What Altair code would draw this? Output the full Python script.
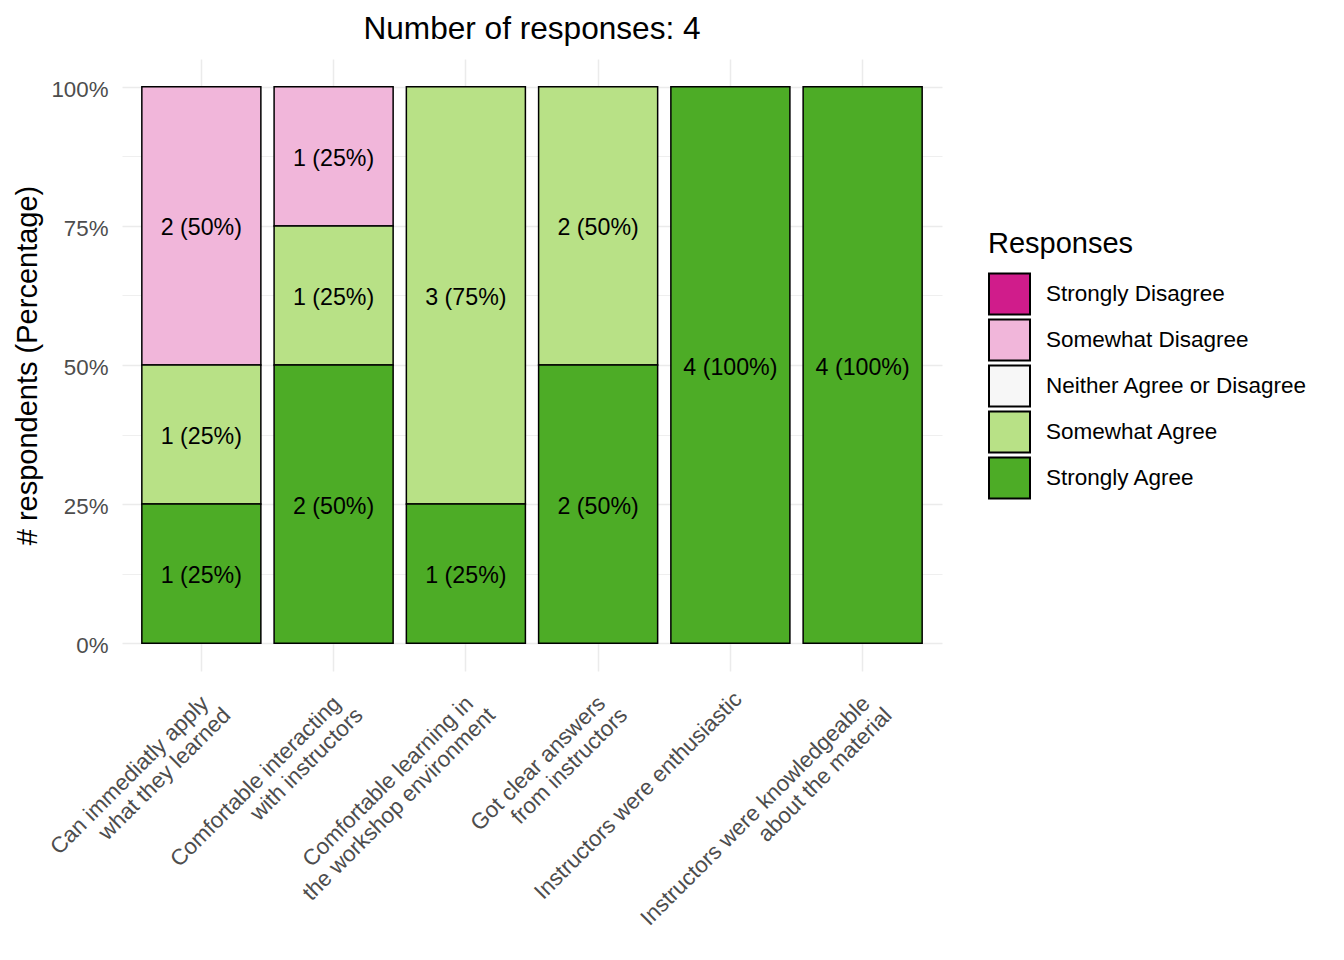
import altair as alt
import pandas as pd

categories = [
    "Can immediatly apply\nwhat they learned",
    "Comfortable interacting\nwith instructors",
    "Comfortable learning in\nthe workshop environment",
    "Got clear answers\nfrom instructors",
    "Instructors were enthusiastic",
    "Instructors were knowledgeable\nabout the material",
]
responses = [
    "Strongly Disagree",
    "Somewhat Disagree",
    "Neither Agree or Disagree",
    "Somewhat Agree",
    "Strongly Agree",
]
colors = ["#D01C8B", "#F1B6DA", "#F7F7F7", "#B8E186", "#4DAC26"]

strongly_disagree = [0, 0, 0, 0, 0, 0]
somewhat_disagree = [2, 1, 0, 0, 0, 0]
neither = [0, 0, 0, 0, 0, 0]
somewhat_agree = [1, 1, 3, 2, 0, 0]
strongly_agree = [1, 2, 1, 2, 4, 4]

series = [strongly_disagree, somewhat_disagree, neither, somewhat_agree, strongly_agree]
rows = []
for resp, vals in zip(responses, series):
    for cat, v in zip(categories, vals):
        if v > 0:
            rows.append({"cat": cat, "resp": resp, "count": v,
                         "rank": len(responses) - 1 - responses.index(resp)})
df = pd.DataFrame(rows)

base = alt.Chart(df).transform_joinaggregate(
    total="sum(count)", groupby=["cat"]
).transform_calculate(
    pct="datum.count / datum.total"
).transform_stack(
    stack="pct", groupby=["cat"], as_=["y0", "y1"],
    sort=[alt.SortField("rank", order="ascending")]
).transform_calculate(
    mid="(datum.y0 + datum.y1) / 2",
    lab="datum.count + ' (' + format(datum.pct, '.0%') + ')'"
)

ticks = [0, 0.125, 0.25, 0.375, 0.5, 0.625, 0.75, 0.875, 1.0]
x_scale = alt.Scale(paddingInner=0.1, paddingOuter=0.15)
two_lines = "indexof(datum.label, '\\n') >= 0"

# first line of each x label
axis_line1 = alt.Axis(
    orient="bottom",
    labelAngle=315, labelAlign="right", labelBaseline="top",
    labelExpr="split(datum.label, '\\n')[0]",
    labelFontSize=22.3, labelColor="#4D4D4D",
    labelPadding={"condition": {"test": two_lines, "value": 20.7}, "value": 16.5},
    labelOffset={"condition": {"test": two_lines, "value": -4.2}, "value": 0},
    labelLimit=1000, ticks=False, domain=False,
    grid=True, gridColor="#EBEBEB", gridWidth=1.5,
)
# second line of each x label
axis_line2 = alt.Axis(
    orient="bottom",
    labelAngle=315, labelAlign="right", labelBaseline="top",
    labelExpr="length(split(datum.label, '\\n')) > 1 ? split(datum.label, '\\n')[1] : ''",
    labelFontSize=22.3, labelColor="#4D4D4D",
    labelPadding=32.5, labelOffset=17.7,
    labelLimit=1000, ticks=False, domain=False, grid=False,
)

y_scale = alt.Scale(domain=[-0.05, 1.05], nice=False, zero=False)

bars = base.mark_bar(stroke="black", strokeWidth=1.5).encode(
    x=alt.X("cat:N", sort=categories, title=None, scale=x_scale, axis=axis_line1),
    y=alt.Y(
        "y0:Q", scale=y_scale, title="# respondents (Percentage)",
        axis=alt.Axis(
            values=ticks,
            labelExpr="datum.value % 0.25 === 0 ? format(datum.value, '.0%') : ''",
            labelFontSize=22.3, labelColor="#4D4D4D", labelPadding=14,
            labelOffset=2.5,
            ticks=False, domain=False,
            grid=True, gridColor="#EBEBEB",
            gridWidth={"condition": {"test": "datum.value % 0.25 !== 0", "value": 0.8}, "value": 1.5},
            titleFontSize=29, titleFontWeight="normal", titleColor="black",
            titlePadding=8,
        ),
    ),
    y2="y1:Q",
    fill=alt.Fill(
        "resp:N",
        scale=alt.Scale(domain=responses, range=colors),
        legend=alt.Legend(
            title="Responses", orient="none", legendX=866, legendY=171,
            titleFontSize=29, titleFontWeight="normal", titleColor="black",
            titlePadding=13, padding=0,
            labelFontSize=22.5, labelColor="black", labelOffset=15,
            labelLimit=1000,
            symbolType="square", symbolSize=1681,
            symbolStrokeColor="black", symbolStrokeWidth=2,
            symbolOpacity=1, rowPadding=2, clipHeight=44,
        ),
    ),
)

texts = base.mark_text(fontSize=23.2, color="black", baseline="middle", dy=2.5).encode(
    x=alt.X("cat:N", sort=categories, title=None, scale=x_scale, axis=axis_line2),
    y=alt.Y("mid:Q", scale=y_scale),
    text="lab:N",
)

chart = alt.layer(bars, texts).resolve_scale(x="shared").resolve_axis(
    x="independent"
).properties(
    width=820, height=612,
    title=alt.TitleParams(
        "Number of responses: 4", fontSize=31.6, fontWeight="normal",
        anchor="middle", color="black", offset=13,
    ),
    autosize=alt.AutoSizeParams(type="none"),
    padding={"left": 114, "top": 51, "right": 394, "bottom": 281},
).configure(
    font="Liberation Sans",
).configure_view(stroke=None)

chart.save("out.html", embed_options={"renderer": "svg", "actions": False})
